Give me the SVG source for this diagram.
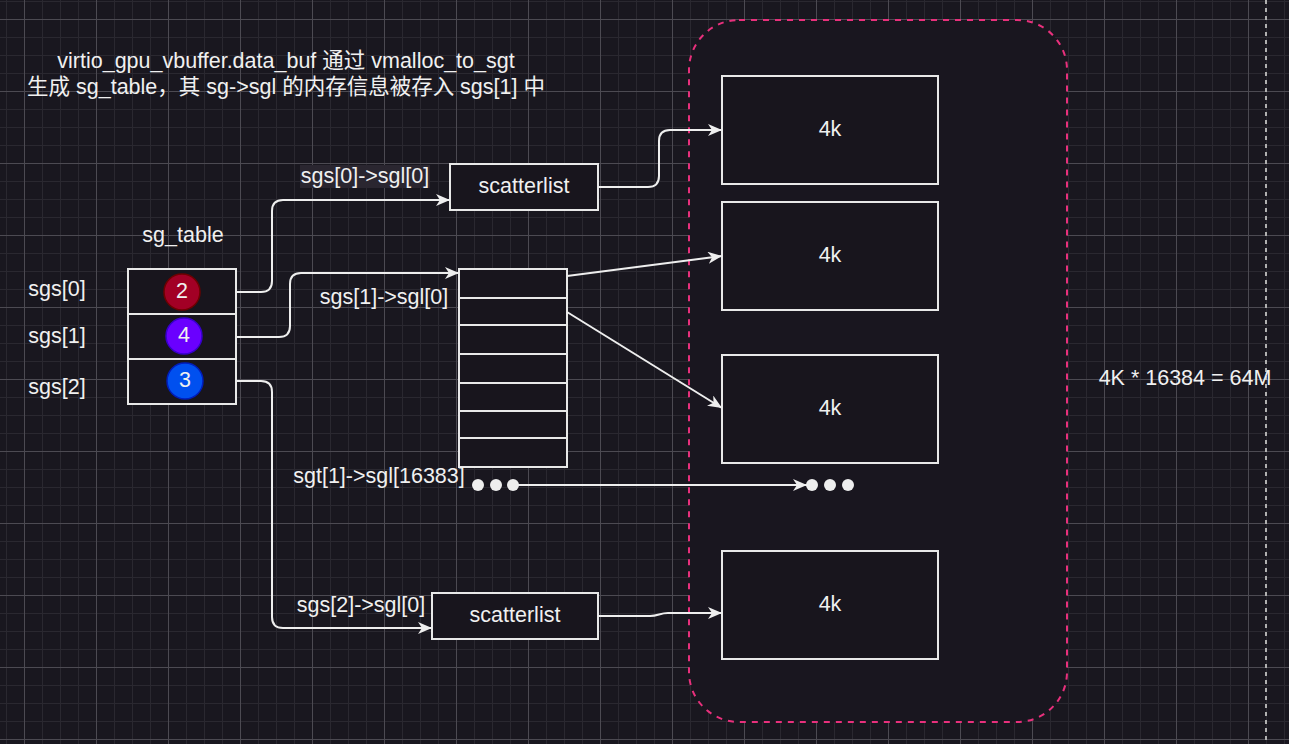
<svg xmlns="http://www.w3.org/2000/svg" width="1289" height="744" viewBox="0 0 1289 744">
<style>
text{font-family:"Liberation Sans","Noto Sans CJK SC",Arial,sans-serif;fill:#f0f0f0;font-size:21.5px}
.c{text-anchor:middle;dominant-baseline:central}
.box{fill:#18151d;stroke:#e8e8e8;stroke-width:2}
.conn{fill:none;stroke:#eeeeee;stroke-width:2}
.dot{fill:#eeeeee}
</style>
<defs>
<pattern id="minor" width="18" height="18" x="6" y="1" patternUnits="userSpaceOnUse">
<rect width="18" height="1" fill="#2a2830"/><rect width="1" height="18" fill="#2a2830"/>
</pattern>
<pattern id="major" width="72" height="72" x="24" y="19" patternUnits="userSpaceOnUse">
<rect width="72" height="1" fill="#4c4a52"/><rect width="1" height="72" fill="#4c4a52"/>
</pattern>
<marker id="arr" markerWidth="15" markerHeight="12" refX="14" refY="6" orient="auto" markerUnits="userSpaceOnUse">
<path d="M0,0 L14,6 L0,12 L4,6 z" fill="#eeeeee"/>
</marker>
</defs>
<rect width="1289" height="744" fill="#19171f"/>
<rect width="1289" height="744" fill="url(#minor)"/>
<rect width="1289" height="744" fill="url(#major)"/>
<line x1="1266" y1="0" x2="1266" y2="744" stroke="#b0b0b0" stroke-width="2" stroke-dasharray="4 4"/>

<g id="container">
<rect x="689" y="20" width="378" height="702" rx="50" ry="50" fill="#19161f" stroke="#e8307c" stroke-width="2" stroke-dasharray="6 6"/>
</g>

<g id="title">
<text class="c" x="286" y="61">virtio_gpu_vbuffer.data_buf 通过 vmalloc_to_sgt</text>
<text class="c" x="286" y="87">生成 sg_table，其 sg-&gt;sgl 的内存信息被存入 sgs[1] 中</text>
</g>

<g id="sg_table">
<text class="c" x="183" y="235">sg_table</text>
<rect class="box" x="128" y="269" width="108" height="45"/>
<rect class="box" x="128" y="314" width="108" height="45"/>
<rect class="box" x="128" y="359" width="108" height="45"/>
<circle cx="182" cy="292" r="18" fill="#a20025" stroke="#6f0000" stroke-width="1.5"/>
<text class="c" x="182" y="291">2</text>
<circle cx="184" cy="336" r="18" fill="#6a00ff" stroke="#3700cc" stroke-width="1.5"/>
<text class="c" x="184" y="335">4</text>
<circle cx="185" cy="381" r="18" fill="#0050ef" stroke="#001dbc" stroke-width="1.5"/>
<text class="c" x="185" y="380">3</text>
</g>

<g id="labels-sgs">
<text class="c" x="57" y="289">sgs[0]</text>
<text class="c" x="57" y="336">sgs[1]</text>
<text class="c" x="57" y="387">sgs[2]</text>
</g>

<g id="scatterlist0">
<rect class="box" x="450" y="164" width="148" height="46"/>
<text class="c" x="524" y="186">scatterlist</text>
</g>

<g id="sgl-array">
<rect class="box" x="459" y="269" width="108" height="198"/>
<line x1="459" y1="298" x2="567" y2="298" stroke="#e8e8e8" stroke-width="2"/>
<line x1="459" y1="325" x2="567" y2="325" stroke="#e8e8e8" stroke-width="2"/>
<line x1="459" y1="354" x2="567" y2="354" stroke="#e8e8e8" stroke-width="2"/>
<line x1="459" y1="383" x2="567" y2="383" stroke="#e8e8e8" stroke-width="2"/>
<line x1="459" y1="411" x2="567" y2="411" stroke="#e8e8e8" stroke-width="2"/>
<line x1="459" y1="438" x2="567" y2="438" stroke="#e8e8e8" stroke-width="2"/>
</g>

<g id="scatterlist2">
<rect class="box" x="432" y="593" width="166" height="46"/>
<text class="c" x="515" y="615">scatterlist</text>
</g>

<g id="page1"><rect class="box" x="722" y="76" width="216" height="108"/><text class="c" x="830" y="129">4k</text></g>
<g id="page2"><rect class="box" x="722" y="202" width="216" height="108"/><text class="c" x="830" y="255">4k</text></g>
<g id="page3"><rect class="box" x="722" y="355" width="216" height="108"/><text class="c" x="830" y="408">4k</text></g>
<g id="page4"><rect class="box" x="722" y="551" width="216" height="108"/><text class="c" x="830" y="604">4k</text></g>

<g id="dots-left">
<circle class="dot" cx="478" cy="485" r="6"/><circle class="dot" cx="496" cy="485" r="6"/><circle class="dot" cx="513" cy="485" r="6"/>
</g>
<g id="dots-right">
<circle class="dot" cx="812" cy="485" r="6"/><circle class="dot" cx="830" cy="485" r="6"/><circle class="dot" cx="848" cy="485" r="6"/>
</g>

<g id="note">
<text class="c" x="1185" y="378">4K * 16384 = 64M</text>
</g>

<g id="connectors">
<path class="conn" d="M236,292 H261 Q272,292 272,281 V211 Q272,200 283,200 H450" marker-end="url(#arr)"/>
<path class="conn" d="M236,337 H279 Q290,337 290,326 V284 Q290,273 301,273 H459" marker-end="url(#arr)"/>
<path class="conn" d="M236,381 H261 Q272,381 272,392 V617 Q272,628 283,628 H432" marker-end="url(#arr)"/>
<path class="conn" d="M598,187 H648 Q659,187 659,176 V141 Q659,130 670,130 H722" marker-end="url(#arr)"/>
<path class="conn" d="M567,276 L722,256" marker-end="url(#arr)"/>
<path class="conn" d="M567,312 L722,408" marker-end="url(#arr)"/>
<path class="conn" d="M513,485 H807" marker-end="url(#arr)"/>
<path class="conn" d="M598,616 H650 C658,616 660,613 668,613 H722" marker-end="url(#arr)"/>
</g>

<g id="edge-labels">
<rect x="300" y="165" width="130" height="23" fill="#2a2630"/>
<text class="c" x="365" y="176">sgs[0]-&gt;sgl[0]</text>
<text class="c" x="384" y="297">sgs[1]-&gt;sgl[0]</text>
<text class="c" x="379" y="476">sgt[1]-&gt;sgl[16383]</text>
<text class="c" x="361" y="605">sgs[2]-&gt;sgl[0]</text>
</g>
</svg>
